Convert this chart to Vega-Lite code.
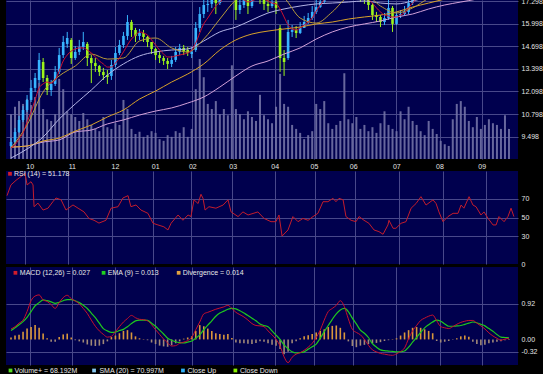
{
  "$schema": "https://vega.github.io/schema/vega-lite/v6.json",
  "background": "#000000",
  "padding": {"left": 5, "top": -3, "right": 0, "bottom": 0},
  "config": {
    "view": {"stroke": null, "fill": "#00004e"},
    "axis": {"domain": false, "ticks": false, "labelOverlap": false, "tickCount": 30, "labelFont": "Liberation Sans", "labelFontSize": 7, "labelColor": "#e4e4e4", "gridColor": "#48488a", "gridOpacity": 1, "gridWidth": 1},
    "text": {"font": "Liberation Sans", "fontSize": 7, "color": "#e8e8e8", "align": "left", "baseline": "middle"}
  },
  "datasets": {
    "cd": [
      {"t":0,"o":8.96,"h":9.42,"l":8.85,"c":9.19,"v":79,"a":8.85,"m":0.27,"s":0.23,"d":0.05},
      {"t":2,"o":9.19,"h":10.00,"l":9.08,"c":9.77,"v":92,"a":9.02,"m":0.33,"s":0.30,"d":0.10},
      {"t":4,"o":9.77,"h":10.69,"l":9.71,"c":10.46,"v":102,"a":9.36,"m":0.42,"s":0.38,"d":0.12},
      {"t":6,"o":10.46,"h":11.26,"l":10.34,"c":11.03,"v":97,"a":9.71,"m":0.50,"s":0.46,"d":0.20},
      {"t":8,"o":11.03,"h":11.89,"l":10.92,"c":11.61,"v":106,"a":10.34,"m":0.72,"s":0.57,"d":0.28},
      {"t":10,"o":11.61,"h":12.76,"l":11.49,"c":12.30,"v":95,"a":10.92,"m":1.00,"s":0.72,"d":0.32},
      {"t":12,"o":12.30,"h":13.16,"l":12.07,"c":12.87,"v":109,"a":11.61,"m":1.12,"s":0.87,"d":0.37},
      {"t":14,"o":12.76,"h":14.31,"l":12.58,"c":13.91,"v":134,"a":12.30,"m":1.15,"s":0.95,"d":0.30},
      {"t":16,"o":13.79,"h":14.02,"l":12.64,"c":12.87,"v":88,"a":12.53,"m":1.02,"s":1.02,"d":0.15},
      {"t":18,"o":12.87,"h":13.04,"l":11.89,"c":12.18,"v":70,"a":12.64,"m":0.98,"s":1.00,"d":0.03},
      {"t":20,"o":12.18,"h":12.76,"l":11.84,"c":12.53,"v":67,"a":12.58,"m":0.90,"s":0.97,"d":-0.06},
      {"t":22,"o":12.53,"h":13.56,"l":12.41,"c":13.22,"v":79,"a":12.76,"m":0.80,"s":0.93,"d":-0.06},
      {"t":24,"o":13.22,"h":14.60,"l":13.10,"c":14.19,"v":141,"a":13.27,"m":0.95,"s":0.96,"d":0.06},
      {"t":26,"o":14.19,"h":15.29,"l":14.02,"c":14.94,"v":123,"a":13.85,"m":1.08,"s":1.00,"d":0.13},
      {"t":28,"o":14.83,"h":15.52,"l":14.60,"c":15.17,"v":84,"a":14.19,"m":1.14,"s":1.03,"d":0.15},
      {"t":30,"o":15.06,"h":15.17,"l":13.68,"c":14.02,"v":79,"a":14.42,"m":1.05,"s":1.03,"d":0.05},
      {"t":32,"o":14.02,"h":14.71,"l":13.91,"c":14.37,"v":74,"a":14.54,"m":0.99,"s":1.00,"d":-0.02},
      {"t":34,"o":14.37,"h":15.06,"l":14.19,"c":14.65,"v":67,"a":14.60,"m":0.92,"s":0.95,"d":-0.05},
      {"t":36,"o":14.65,"h":15.52,"l":14.48,"c":14.94,"v":81,"a":14.60,"m":0.80,"s":0.88,"d":-0.08},
      {"t":38,"o":14.83,"h":14.94,"l":13.56,"c":14.02,"v":70,"a":14.48,"m":0.67,"s":0.80,"d":-0.13},
      {"t":40,"o":14.02,"h":14.19,"l":12.58,"c":13.73,"v":60,"a":14.31,"m":0.50,"s":0.68,"d":-0.16},
      {"t":42,"o":13.73,"h":14.02,"l":13.22,"c":13.56,"v":53,"a":14.08,"m":0.34,"s":0.56,"d":-0.17},
      {"t":44,"o":13.56,"h":13.62,"l":12.99,"c":13.22,"v":49,"a":13.85,"m":0.22,"s":0.42,"d":-0.16},
      {"t":46,"o":13.22,"h":13.45,"l":12.76,"c":13.04,"v":74,"a":13.68,"m":0.13,"s":0.28,"d":-0.12},
      {"t":48,"o":13.04,"h":13.33,"l":12.53,"c":12.93,"v":56,"a":13.50,"m":0.06,"s":0.22,"d":-0.05},
      {"t":50,"o":12.99,"h":13.91,"l":12.76,"c":13.62,"v":53,"a":13.50,"m":0.08,"s":0.18,"d":0.06},
      {"t":52,"o":13.62,"h":14.65,"l":13.50,"c":14.31,"v":63,"a":13.73,"m":0.20,"s":0.19,"d":0.10},
      {"t":54,"o":14.31,"h":15.06,"l":14.19,"c":14.77,"v":60,"a":14.02,"m":0.33,"s":0.23,"d":0.16},
      {"t":56,"o":14.77,"h":15.52,"l":14.60,"c":15.29,"v":104,"a":14.37,"m":0.45,"s":0.26,"d":0.22},
      {"t":58,"o":15.29,"h":16.49,"l":15.06,"c":16.09,"v":88,"a":14.77,"m":0.54,"s":0.33,"d":0.24},
      {"t":60,"o":16.09,"h":16.21,"l":15.23,"c":15.63,"v":53,"a":15.11,"m":0.62,"s":0.41,"d":0.18},
      {"t":62,"o":15.63,"h":15.75,"l":14.94,"c":15.29,"v":44,"a":15.34,"m":0.56,"s":0.48,"d":0.08},
      {"t":64,"o":15.29,"h":15.69,"l":15.06,"c":15.46,"v":48,"a":15.52,"m":0.52,"s":0.50,"d":0.03},
      {"t":66,"o":15.46,"h":15.63,"l":14.94,"c":15.23,"v":39,"a":15.46,"m":0.51,"s":0.50,"d":0.01},
      {"t":68,"o":15.23,"h":15.29,"l":14.65,"c":14.94,"v":42,"a":15.34,"m":0.48,"s":0.49,"d":-0.02},
      {"t":70,"o":14.94,"h":14.94,"l":14.25,"c":14.54,"v":49,"a":15.06,"m":0.38,"s":0.42,"d":-0.08},
      {"t":72,"o":14.54,"h":14.60,"l":13.91,"c":14.19,"v":46,"a":14.77,"m":0.25,"s":0.34,"d":-0.12},
      {"t":74,"o":14.19,"h":14.37,"l":13.73,"c":14.02,"v":35,"a":14.48,"m":0.13,"s":0.24,"d":-0.16},
      {"t":76,"o":14.02,"h":14.14,"l":13.62,"c":13.85,"v":32,"a":14.25,"m":0.01,"s":0.14,"d":-0.18},
      {"t":78,"o":13.85,"h":14.02,"l":13.39,"c":13.68,"v":42,"a":14.08,"m":-0.09,"s":0.03,"d":-0.19},
      {"t":80,"o":13.68,"h":14.14,"l":13.50,"c":13.91,"v":39,"a":14.08,"m":-0.17,"s":-0.02,"d":-0.15},
      {"t":82,"o":13.91,"h":14.65,"l":13.79,"c":14.37,"v":49,"a":14.14,"m":-0.16,"s":-0.06,"d":-0.10},
      {"t":84,"o":14.37,"h":14.83,"l":14.19,"c":14.60,"v":46,"a":14.19,"m":-0.10,"s":-0.08,"d":-0.05},
      {"t":86,"o":14.60,"h":14.77,"l":14.19,"c":14.42,"v":56,"a":14.25,"m":-0.07,"s":-0.09,"d":0.02},
      {"t":88,"o":14.48,"h":14.65,"l":14.14,"c":14.31,"v":39,"a":14.31,"m":-0.03,"s":-0.07,"d":0.05},
      {"t":90,"o":14.25,"h":14.65,"l":14.02,"c":14.37,"v":53,"a":14.48,"m":0.05,"s":-0.04,"d":0.08},
      {"t":92,"o":14.48,"h":16.09,"l":14.37,"c":15.75,"v":123,"a":14.88,"m":0.25,"s":0.03,"d":0.22},
      {"t":94,"o":15.75,"h":16.95,"l":15.52,"c":16.55,"v":176,"a":15.46,"m":0.45,"s":0.12,"d":0.37},
      {"t":96,"o":16.55,"h":17.53,"l":16.32,"c":17.07,"v":144,"a":15.98,"m":0.66,"s":0.25,"d":0.34},
      {"t":98,"o":17.07,"h":17.70,"l":16.67,"c":17.13,"v":97,"a":16.32,"m":0.70,"s":0.37,"d":0.28},
      {"t":100,"o":17.13,"h":18.05,"l":16.90,"c":17.70,"v":88,"a":16.67,"m":0.74,"s":0.48,"d":0.22},
      {"t":102,"o":17.70,"h":17.93,"l":16.55,"c":17.18,"v":102,"a":17.01,"m":0.78,"s":0.60,"d":0.16},
      {"t":104,"o":17.18,"h":18.16,"l":17.07,"c":17.82,"v":79,"a":17.24,"m":0.81,"s":0.68,"d":0.14},
      {"t":106,"o":17.82,"h":18.39,"l":17.59,"c":18.05,"v":88,"a":17.47,"m":0.84,"s":0.73,"d":0.12},
      {"t":108,"o":18.05,"h":18.62,"l":17.82,"c":18.22,"v":77,"a":17.70,"m":0.88,"s":0.78,"d":0.14},
      {"t":110,"o":18.22,"h":18.39,"l":17.59,"c":17.93,"v":165,"a":17.82,"m":0.80,"s":0.80,"d":0.04},
      {"t":112,"o":17.82,"h":17.93,"l":16.21,"c":16.78,"v":88,"a":17.64,"m":0.70,"s":0.79,"d":-0.08},
      {"t":114,"o":16.78,"h":17.47,"l":16.55,"c":17.07,"v":79,"a":17.47,"m":0.64,"s":0.74,"d":-0.10},
      {"t":116,"o":17.07,"h":17.70,"l":16.90,"c":17.36,"v":70,"a":17.36,"m":0.58,"s":0.68,"d":-0.10},
      {"t":118,"o":17.36,"h":17.59,"l":16.55,"c":17.01,"v":84,"a":17.24,"m":0.50,"s":0.62,"d":-0.11},
      {"t":120,"o":17.01,"h":17.93,"l":16.90,"c":17.70,"v":74,"a":17.30,"m":0.41,"s":0.55,"d":-0.12},
      {"t":122,"o":17.70,"h":18.16,"l":17.47,"c":17.87,"v":67,"a":17.41,"m":0.36,"s":0.48,"d":-0.09},
      {"t":124,"o":17.87,"h":18.05,"l":17.13,"c":17.53,"v":113,"a":17.47,"m":0.35,"s":0.40,"d":-0.05},
      {"t":126,"o":17.53,"h":17.70,"l":16.78,"c":17.13,"v":77,"a":17.41,"m":0.33,"s":0.36,"d":-0.06},
      {"t":128,"o":17.13,"h":17.47,"l":16.67,"c":17.01,"v":70,"a":17.30,"m":0.22,"s":0.33,"d":-0.10},
      {"t":130,"o":17.01,"h":17.59,"l":16.90,"c":17.24,"v":63,"a":17.18,"m":0.12,"s":0.22,"d":-0.14},
      {"t":132,"o":17.24,"h":17.47,"l":16.55,"c":16.90,"v":92,"a":17.13,"m":0.00,"s":0.11,"d":-0.16},
      {"t":134,"o":15.75,"h":15.92,"l":13.22,"c":14.02,"v":150,"a":16.84,"m":-0.17,"s":0.00,"d":-0.25},
      {"t":136,"o":14.02,"h":14.48,"l":12.99,"c":13.79,"v":97,"a":16.38,"m":-0.45,"s":-0.14,"d":-0.38},
      {"t":138,"o":14.02,"h":16.21,"l":13.91,"c":15.52,"v":92,"a":15.92,"m":-0.60,"s":-0.24,"d":-0.32},
      {"t":140,"o":15.52,"h":15.92,"l":15.23,"c":15.63,"v":60,"a":15.69,"m":-0.46,"s":-0.32,"d":-0.10},
      {"t":142,"o":15.63,"h":15.86,"l":15.17,"c":15.46,"v":53,"a":15.63,"m":-0.38,"s":-0.35,"d":-0.05},
      {"t":144,"o":15.46,"h":16.09,"l":15.40,"c":15.75,"v":46,"a":15.75,"m":-0.34,"s":-0.34,"d":0.03},
      {"t":146,"o":15.75,"h":16.44,"l":15.75,"c":16.09,"v":35,"a":15.92,"m":-0.28,"s":-0.32,"d":0.08},
      {"t":148,"o":16.09,"h":16.61,"l":15.98,"c":16.32,"v":42,"a":16.09,"m":-0.20,"s":-0.25,"d":0.11},
      {"t":150,"o":16.32,"h":17.01,"l":16.21,"c":16.67,"v":49,"a":16.32,"m":-0.10,"s":-0.19,"d":0.14},
      {"t":152,"o":16.67,"h":17.36,"l":16.55,"c":16.95,"v":97,"a":16.72,"m":0.05,"s":-0.12,"d":0.18},
      {"t":154,"o":16.95,"h":17.59,"l":16.90,"c":17.24,"v":88,"a":17.07,"m":0.24,"s":0.03,"d":0.22},
      {"t":156,"o":17.24,"h":18.05,"l":17.13,"c":17.70,"v":102,"a":17.36,"m":0.50,"s":0.20,"d":0.26},
      {"t":158,"o":17.70,"h":18.39,"l":17.59,"c":18.05,"v":63,"a":17.59,"m":0.72,"s":0.36,"d":0.32},
      {"t":160,"o":18.05,"h":18.62,"l":17.93,"c":18.28,"v":53,"a":17.82,"m":0.80,"s":0.52,"d":0.35},
      {"t":162,"o":18.28,"h":18.85,"l":18.16,"c":18.51,"v":60,"a":18.05,"m":0.88,"s":0.66,"d":0.36},
      {"t":164,"o":18.51,"h":18.74,"l":18.05,"c":18.39,"v":67,"a":18.22,"m":1.00,"s":0.76,"d":0.30},
      {"t":166,"o":18.39,"h":18.97,"l":18.16,"c":18.62,"v":151,"a":18.33,"m":0.85,"s":0.80,"d":0.18},
      {"t":168,"o":18.62,"h":18.74,"l":17.93,"c":18.28,"v":70,"a":18.33,"m":0.53,"s":0.72,"d":-0.05},
      {"t":170,"o":18.28,"h":18.39,"l":17.70,"c":18.05,"v":63,"a":18.22,"m":0.26,"s":0.55,"d":-0.17},
      {"t":172,"o":18.05,"h":18.22,"l":17.47,"c":17.82,"v":74,"a":18.05,"m":0.18,"s":0.40,"d":-0.20},
      {"t":174,"o":17.82,"h":17.93,"l":17.24,"c":17.59,"v":53,"a":17.82,"m":0.12,"s":0.24,"d":-0.16},
      {"t":176,"o":17.59,"h":17.82,"l":17.13,"c":17.47,"v":60,"a":17.59,"m":0.00,"s":0.16,"d":-0.14},
      {"t":178,"o":17.47,"h":17.59,"l":16.78,"c":17.07,"v":49,"a":17.41,"m":-0.15,"s":0.05,"d":-0.12},
      {"t":180,"o":17.07,"h":17.18,"l":16.21,"c":16.49,"v":56,"a":17.18,"m":-0.27,"s":-0.11,"d":-0.10},
      {"t":182,"o":16.49,"h":16.67,"l":16.09,"c":16.38,"v":46,"a":16.90,"m":-0.32,"s":-0.20,"d":-0.09},
      {"t":184,"o":16.38,"h":16.49,"l":15.80,"c":16.09,"v":63,"a":16.67,"m":-0.36,"s":-0.27,"d":-0.07},
      {"t":186,"o":16.09,"h":16.61,"l":15.92,"c":16.32,"v":84,"a":16.49,"m":-0.38,"s":-0.29,"d":-0.04},
      {"t":188,"o":16.32,"h":17.36,"l":16.21,"c":16.90,"v":60,"a":16.44,"m":-0.40,"s":-0.30,"d":-0.02},
      {"t":190,"o":16.90,"h":17.01,"l":15.52,"c":15.98,"v":53,"a":16.38,"m":-0.41,"s":-0.31,"d":0.01},
      {"t":192,"o":15.98,"h":16.67,"l":15.92,"c":16.49,"v":49,"a":16.38,"m":-0.37,"s":-0.32,"d":0.03},
      {"t":194,"o":16.49,"h":16.78,"l":16.32,"c":16.55,"v":84,"a":16.49,"m":-0.31,"s":-0.32,"d":0.10},
      {"t":196,"o":16.55,"h":17.01,"l":16.44,"c":16.67,"v":70,"a":16.61,"m":-0.22,"s":-0.30,"d":0.18},
      {"t":198,"o":16.67,"h":17.59,"l":16.55,"c":17.18,"v":92,"a":16.90,"m":0.02,"s":-0.20,"d":0.24},
      {"t":200,"o":17.18,"h":18.05,"l":17.07,"c":17.70,"v":67,"a":17.18,"m":0.22,"s":-0.07,"d":0.30},
      {"t":202,"o":17.70,"h":18.39,"l":17.59,"c":18.05,"v":60,"a":17.47,"m":0.36,"s":0.05,"d":0.32},
      {"t":204,"o":18.05,"h":18.74,"l":17.93,"c":18.39,"v":49,"a":17.82,"m":0.49,"s":0.18,"d":0.30},
      {"t":206,"o":18.39,"h":18.97,"l":18.28,"c":18.62,"v":42,"a":18.10,"m":0.55,"s":0.30,"d":0.26},
      {"t":208,"o":18.62,"h":19.20,"l":18.51,"c":18.85,"v":67,"a":18.39,"m":0.60,"s":0.38,"d":0.22},
      {"t":210,"o":18.85,"h":19.43,"l":18.74,"c":19.08,"v":53,"a":18.62,"m":0.63,"s":0.45,"d":0.16},
      {"t":212,"o":19.08,"h":19.31,"l":18.62,"c":18.97,"v":44,"a":18.79,"m":0.48,"s":0.50,"d":-0.04},
      {"t":214,"o":18.97,"h":19.08,"l":18.39,"c":18.74,"v":32,"a":18.85,"m":0.33,"s":0.47,"d":-0.08},
      {"t":216,"o":18.74,"h":19.43,"l":18.62,"c":19.08,"v":26,"a":18.91,"m":0.30,"s":0.40,"d":-0.06},
      {"t":218,"o":19.08,"h":19.66,"l":18.97,"c":19.31,"v":23,"a":19.02,"m":0.28,"s":0.34,"d":-0.04},
      {"t":220,"o":19.31,"h":19.89,"l":19.20,"c":19.54,"v":70,"a":19.20,"m":0.33,"s":0.34,"d":-0.01},
      {"t":222,"o":19.54,"h":20.00,"l":19.31,"c":19.66,"v":97,"a":19.37,"m":0.39,"s":0.35,"d":0.03},
      {"t":224,"o":19.66,"h":19.77,"l":19.08,"c":19.43,"v":102,"a":19.43,"m":0.44,"s":0.36,"d":0.08},
      {"t":226,"o":19.43,"h":19.54,"l":18.85,"c":19.20,"v":92,"a":19.37,"m":0.47,"s":0.39,"d":0.10},
      {"t":228,"o":19.20,"h":19.31,"l":18.62,"c":18.97,"v":67,"a":19.25,"m":0.49,"s":0.42,"d":0.07},
      {"t":230,"o":18.97,"h":19.20,"l":18.51,"c":18.85,"v":56,"a":19.08,"m":0.49,"s":0.45,"d":-0.06},
      {"t":232,"o":18.85,"h":18.97,"l":18.28,"c":18.62,"v":74,"a":18.91,"m":0.42,"s":0.43,"d":-0.12},
      {"t":234,"o":18.62,"h":19.08,"l":18.39,"c":18.74,"v":53,"a":18.79,"m":0.35,"s":0.39,"d":-0.15},
      {"t":236,"o":18.74,"h":18.85,"l":18.16,"c":18.51,"v":60,"a":18.68,"m":0.27,"s":0.35,"d":-0.14},
      {"t":238,"o":18.51,"h":18.97,"l":18.28,"c":18.62,"v":70,"a":18.62,"m":0.17,"s":0.28,"d":-0.10},
      {"t":240,"o":18.62,"h":19.20,"l":18.51,"c":18.85,"v":63,"a":18.68,"m":0.09,"s":0.21,"d":-0.08},
      {"t":242,"o":18.85,"h":19.08,"l":18.39,"c":18.74,"v":60,"a":18.74,"m":0.03,"s":0.13,"d":-0.06},
      {"t":244,"o":18.74,"h":19.31,"l":18.62,"c":18.97,"v":53,"a":18.85,"m":-0.02,"s":0.06,"d":-0.05},
      {"t":246,"o":18.97,"h":19.54,"l":18.85,"c":19.20,"v":77,"a":18.97,"m":0.01,"s":0.05,"d":-0.02},
      {"t":248,"o":19.20,"h":19.43,"l":18.74,"c":19.08,"v":53,"a":19.02,"m":0.03,"s":0.04,"d":0.01}
    ],
    "ma": [
      {"t":0,"b":8.85,"e":8.27,"g":8.90,"p":8.90},
      {"t":8,"b":10.17,"e":8.79,"g":8.96,"p":8.96},
      {"t":16,"b":12.07,"e":9.48,"g":9.25,"p":9.19},
      {"t":24,"b":12.99,"e":10.51,"g":9.42,"p":9.31},
      {"t":32,"b":13.56,"e":11.38,"g":9.82,"p":9.77},
      {"t":40,"b":14.25,"e":12.18,"g":10.17,"p":9.88},
      {"t":48,"b":13.96,"e":13.04,"g":10.63,"p":10.23},
      {"t":56,"b":14.02,"e":13.68,"g":11.03,"p":10.46},
      {"t":64,"b":15.00,"e":14.14,"g":11.66,"p":10.74},
      {"t":72,"b":15.17,"e":14.37,"g":12.12,"p":10.97},
      {"t":80,"b":14.60,"e":14.48,"g":12.64,"p":11.15},
      {"t":88,"b":14.37,"e":14.54,"g":13.10,"p":11.43},
      {"t":96,"b":15.11,"e":15.00,"g":13.68,"p":11.78},
      {"t":104,"b":16.26,"e":15.52,"g":14.48,"p":12.35},
      {"t":112,"b":17.36,"e":15.80,"g":15.06,"p":12.99},
      {"t":120,"b":17.82,"e":16.21,"g":15.40,"p":13.56},
      {"t":128,"b":17.82,"e":16.61,"g":15.57,"p":13.85},
      {"t":136,"b":17.47,"e":16.84,"g":15.69,"p":14.25},
      {"t":144,"b":16.32,"e":17.01,"g":15.80,"p":14.60},
      {"t":152,"b":16.03,"e":17.13,"g":15.98,"p":15.11},
      {"t":160,"b":16.67,"e":17.18,"g":16.09,"p":15.52},
      {"t":168,"b":17.53,"e":17.24,"g":16.26,"p":15.80},
      {"t":176,"b":17.70,"e":17.30,"g":16.38,"p":15.98},
      {"t":184,"b":17.01,"e":17.18,"g":16.49,"p":16.15},
      {"t":192,"b":16.61,"e":17.13,"g":16.67,"p":16.38},
      {"t":200,"b":16.90,"e":17.30,"g":16.95,"p":16.55},
      {"t":208,"b":17.47,"e":17.53,"g":17.18,"p":16.84},
      {"t":216,"b":18.05,"e":17.70,"g":17.41,"p":17.07},
      {"t":224,"b":18.51,"e":17.87,"g":17.64,"p":17.24},
      {"t":232,"b":18.79,"e":18.05,"g":17.76,"p":17.41},
      {"t":240,"b":18.79,"e":18.22,"g":17.87,"p":17.64},
      {"t":248,"b":18.79,"e":18.33,"g":17.99,"p":17.82}
    ],
    "rsi": [
      {"t":0.5,"r":73.5},{"t":2.4,"r":85},{"t":4.9,"r":90},{"t":7.3,"r":94},{"t":9.3,"r":97.5},{"t":10.3,"r":85},{"t":12.2,"r":88.5},{"t":13.2,"r":85},{"t":13.7,"r":61.6},{"t":15.6,"r":65.5},{"t":18.1,"r":58},{"t":20.5,"r":60},{"t":22.9,"r":67},{"t":24.4,"r":71},{"t":26.9,"r":69},{"t":29.3,"r":58},{"t":32.7,"r":63.5},{"t":35.2,"r":60},{"t":38.1,"r":56},{"t":40.5,"r":49},{"t":43,"r":47},{"t":45.4,"r":44},{"t":48.8,"r":47},{"t":51.3,"r":60},{"t":54.7,"r":61.6},{"t":57.1,"r":71},{"t":59.6,"r":73.5},{"t":61,"r":61.6},{"t":63.5,"r":63.5},{"t":65.9,"r":58},{"t":69.3,"r":54.5},{"t":71.8,"r":43.8},{"t":74.2,"r":42},{"t":77.1,"r":40},{"t":79.1,"r":36.6},{"t":80.6,"r":43.8},{"t":84,"r":52.7},{"t":86.4,"r":47},{"t":88.9,"r":52.7},{"t":90.3,"r":51},{"t":91.8,"r":69},{"t":93.8,"r":65},{"t":95.2,"r":75},{"t":96.2,"r":70.6},{"t":97.2,"r":58},{"t":99.1,"r":61.6},{"t":102.5,"r":60},{"t":106,"r":63.4},{"t":108.4,"r":69},{"t":109.9,"r":56},{"t":113.3,"r":51},{"t":115.7,"r":56},{"t":118.2,"r":52.7},{"t":123,"r":56},{"t":126,"r":49},{"t":129.4,"r":45.5},{"t":131.8,"r":45.5},{"t":133.3,"r":52.7},{"t":134.8,"r":30},{"t":137.7,"r":36.6},{"t":140.1,"r":51},{"t":142.6,"r":45.5},{"t":145,"r":49},{"t":147.5,"r":47},{"t":149.9,"r":51},{"t":152.3,"r":54.5},{"t":154.8,"r":67},{"t":157.2,"r":67},{"t":159.7,"r":70.6},{"t":161.1,"r":67},{"t":162.6,"r":70.6},{"t":164.6,"r":69},{"t":166,"r":51},{"t":168.5,"r":47},{"t":170.9,"r":45.5},{"t":172.4,"r":51},{"t":174.8,"r":47},{"t":177.2,"r":43.8},{"t":179.7,"r":36.6},{"t":182.1,"r":34.8},{"t":184.1,"r":32},{"t":186.5,"r":42},{"t":187,"r":47},{"t":189,"r":38.4},{"t":190.4,"r":38.4},{"t":192.9,"r":43.8},{"t":195.3,"r":45.5},{"t":197.8,"r":60},{"t":200.2,"r":65},{"t":202.6,"r":72.4},{"t":205.1,"r":63.4},{"t":208.5,"r":69},{"t":210,"r":65},{"t":211.4,"r":56},{"t":213.4,"r":45.5},{"t":215.8,"r":51},{"t":218.3,"r":54.5},{"t":220.7,"r":54.5},{"t":222.2,"r":63.4},{"t":223.6,"r":60},{"t":226.1,"r":72.4},{"t":228,"r":63.4},{"t":229.5,"r":61.6},{"t":231.9,"r":52.7},{"t":233.4,"r":56},{"t":235.4,"r":49},{"t":237.8,"r":42},{"t":239.3,"r":42},{"t":240.7,"r":51},{"t":243.2,"r":45.5},{"t":245.1,"r":51},{"t":246.6,"r":60},{"t":248,"r":51}
    ],
    "rl": [{"sx":1.95,"tx":3.9,"y":97,"s":"RSI","label":"RSI (14) = 51.178"}],
    "ml": [
      {"sx":2.2,"tx":4.4,"y":1.72,"s":"MACD","label":"MACD (12,26) = 0.027"},
      {"sx":46.1,"tx":48.2,"y":1.72,"s":"EMA","label":"EMA (9) = 0.013"},
      {"sx":83.5,"tx":85.5,"y":1.72,"s":"Div","label":"Divergence = 0.014"}
    ],
    "ll": [
      {"sx":2.2,"tx":4.2,"s":"Vol","label":"Volume+ = 68.192M"},
      {"sx":43.0,"tx":45.6,"s":"SMA","label":"SMA (20) = 70.997M"},
      {"sx":86.4,"tx":88.6,"s":"Up","label":"Close Up"},
      {"sx":112,"tx":114.2,"s":"Down","label":"Close Down"}
    ]
  },
  "bounds": "flush",
  "spacing": 12,
  "vconcat": [
    {
      "width": 512,
      "height": 159,
      "resolve": {"scale": {"y": "independent"}},
      "layer": [
        {
          "data": {"name": "cd"},
          "mark": {"type": "bar", "size": 2, "color": "#7272a6", "opacity": 0.9},
          "encoding": {
            "x": {"field": "t", "type": "quantitative", "scale": {"domain": [0, 250], "nice": false, "zero": false},
                  "axis": {"title": null, "orient": "bottom", "grid": true, "labelPadding": 3, "labelOverlap": false, "tickCount": 30,
                           "values": [9.3,30.3,51.8,71.8,90.3,110.4,131.3,150.9,170.4,191.9,213.4,234.4],
                           "labelExpr": "['10','11','12','01','02','03','04','05','06','07','08','09'][indexof([9.3,30.3,51.8,71.8,90.3,110.4,131.3,150.9,170.4,191.9,213.4,234.4], datum.value)]"}},
            "y": {"field": "v", "type": "quantitative", "scale": {"domain": [0, 280], "nice": false}, "axis": null}
          }
        },
        {
          "layer": [
            {
              "data": {"name": "cd"},
              "mark": {"type": "rule", "strokeWidth": 1, "clip": true},
              "encoding": {
                "x": {"field": "t", "type": "quantitative", "scale": {"domain": [0, 250], "nice": false, "zero": false}},
                "y": {"field": "l", "type": "quantitative", "scale": {"domain": [8.2135, 17.356], "nice": false, "zero": false},
                      "axis": {"title": null, "orient": "right", "grid": true, "labelPadding": 3, "labelOverlap": false, "tickCount": 30,
                               "values": [9.498, 10.798, 12.098, 13.398, 14.698, 15.998, 17.298],
                               "labelExpr": "format(datum.value, '.3f')"}},
                "y2": {"field": "h"},
                "color": {"condition": {"test": "datum.c >= datum.o", "value": "#38b4ff"}, "value": "#9cf51a"}
              }
            },
            {
              "data": {"name": "cd"},
              "mark": {"type": "bar", "size": 2.6, "clip": true},
              "encoding": {
                "x": {"field": "t", "type": "quantitative", "scale": {"domain": [0, 250], "nice": false, "zero": false}},
                "y": {"field": "o", "type": "quantitative", "scale": {"domain": [8.2135, 17.356], "nice": false, "zero": false}},
                "y2": {"field": "c"},
                "color": {"condition": {"test": "datum.c >= datum.o", "value": "#38b4ff"}, "value": "#9cf51a"}
              }
            },
            {
              "data": {"name": "ma"},
              "mark": {"type": "line", "color": "#d2a0d8", "strokeWidth": 1, "interpolate": "monotone", "clip": true},
              "encoding": {
                "x": {"field": "t", "type": "quantitative", "scale": {"domain": [0, 250], "nice": false, "zero": false}},
                "y": {"field": "p", "type": "quantitative", "scale": {"domain": [8.2135, 17.356], "nice": false, "zero": false}}
              }
            },
            {
              "data": {"name": "ma"},
              "mark": {"type": "line", "color": "#d9a22a", "strokeWidth": 1, "interpolate": "monotone", "clip": true},
              "encoding": {
                "x": {"field": "t", "type": "quantitative", "scale": {"domain": [0, 250], "nice": false, "zero": false}},
                "y": {"field": "g", "type": "quantitative", "scale": {"domain": [8.2135, 17.356], "nice": false, "zero": false}}
              }
            },
            {
              "data": {"name": "ma"},
              "mark": {"type": "line", "color": "#b4b4e6", "strokeWidth": 1, "interpolate": "monotone", "clip": true},
              "encoding": {
                "x": {"field": "t", "type": "quantitative", "scale": {"domain": [0, 250], "nice": false, "zero": false}},
                "y": {"field": "e", "type": "quantitative", "scale": {"domain": [8.2135, 17.356], "nice": false, "zero": false}}
              }
            },
            {
              "data": {"name": "ma"},
              "mark": {"type": "line", "color": "#b89a3a", "strokeWidth": 1, "interpolate": "monotone", "clip": true},
              "encoding": {
                "x": {"field": "t", "type": "quantitative", "scale": {"domain": [0, 250], "nice": false, "zero": false}},
                "y": {"field": "b", "type": "quantitative", "scale": {"domain": [8.2135, 17.356], "nice": false, "zero": false}}
              }
            },
            {
              "data": {"name": "cd"},
              "mark": {"type": "line", "color": "#cc1030", "strokeWidth": 1, "interpolate": "monotone", "clip": true},
              "encoding": {
                "x": {"field": "t", "type": "quantitative", "scale": {"domain": [0, 250], "nice": false, "zero": false}},
                "y": {"field": "a", "type": "quantitative", "scale": {"domain": [8.2135, 17.356], "nice": false, "zero": false}}
              }
            }
          ]
        }
      ]
    },
    {
      "bounds": "flush",
      "spacing": 3,
      "vconcat": [
        {
          "width": 512,
          "height": 93,
          "layer": [
            {
              "data": {"name": "rsi"},
              "mark": {"type": "line", "color": "#c41c2c", "strokeWidth": 1},
              "encoding": {
                "x": {"field": "t", "type": "quantitative", "scale": {"domain": [0, 250], "nice": false, "zero": false},
                      "axis": {"title": null, "grid": true, "labels": false, "tickCount": 30, "values": [9.3,30.3,51.8,71.8,90.3,110.4,131.3,150.9,170.4,191.9,213.4,234.4]}},
                "y": {"field": "r", "type": "quantitative", "scale": {"domain": [0, 100], "nice": false},
                      "axis": {"title": null, "orient": "right", "grid": true, "labelPadding": 3, "labelOverlap": false, "tickCount": 30, "values": [0, 30, 50, 70],
                               "labelExpr": "format(datum.value, 'd')",
                               "gridColor": {"condition": {"test": "datum.value === 0", "value": "transparent"}, "value": "#48488a"}}}
              }
            },
            {
              "data": {"name": "rl"},
              "mark": {"type": "square", "size": 14, "opacity": 1},
              "encoding": {
                "x": {"field": "sx", "type": "quantitative"},
                "y": {"field": "y", "type": "quantitative"},
                "color": {"field": "s", "type": "nominal", "legend": null,
                          "scale": {"domain": ["RSI","MACD","EMA","Div","Vol","SMA","Up","Down"], "range": ["#d01c2c","#d01c2c","#1ed21e","#e0a040","#55dd22","#88c8f0","#30b0f8","#88f000"]}}
              }
            },
            {
              "data": {"name": "rl"},
              "mark": {"type": "text"},
              "encoding": {
                "x": {"field": "tx", "type": "quantitative"},
                "y": {"field": "y", "type": "quantitative"},
                "text": {"field": "label"}
              }
            }
          ]
        },
        {
          "width": 512,
          "height": 98,
          "layer": [
            {
              "data": {"name": "cd"},
              "mark": {"type": "bar", "size": 1.6},
              "encoding": {
                "x": {"field": "t", "type": "quantitative", "scale": {"domain": [0, 250], "nice": false, "zero": false},
                      "axis": {"title": null, "grid": true, "labels": false, "tickCount": 30, "values": [9.3,30.3,51.8,71.8,90.3,110.4,131.3,150.9,170.4,191.9,213.4,234.4]}},
                "y": {"field": "d", "type": "quantitative", "scale": {"domain": [-0.66, 1.87], "nice": false, "zero": false},
                      "axis": {"title": null, "orient": "right", "grid": true, "labelPadding": 3, "labelOverlap": false, "tickCount": 30, "values": [0.92, 0, -0.32],
                               "labelExpr": "datum.value < 0 ? '-' + format(-datum.value, '.2f') : format(datum.value, '.2f')",
                               "gridColor": {"condition": {"test": "datum.value === 0", "value": "transparent"}, "value": "#48488a"}}},
                "y2": {"datum": 0},
                "color": {"condition": {"test": "datum.d >= 0", "value": "#d8963c"}, "value": "#a08878"}
              }
            },
            {
              "data": {"name": "cd"},
              "mark": {"type": "line", "color": "#1ec81e", "strokeWidth": 1.2, "interpolate": "monotone"},
              "encoding": {
                "x": {"field": "t", "type": "quantitative"},
                "y": {"field": "s", "type": "quantitative"}
              }
            },
            {
              "data": {"name": "cd"},
              "mark": {"type": "line", "color": "#c8102c", "strokeWidth": 1, "interpolate": "monotone"},
              "encoding": {
                "x": {"field": "t", "type": "quantitative"},
                "y": {"field": "m", "type": "quantitative"}
              }
            },
            {
              "data": {"name": "ml"},
              "mark": {"type": "square", "size": 14, "opacity": 1},
              "encoding": {
                "x": {"field": "sx", "type": "quantitative"},
                "y": {"field": "y", "type": "quantitative"},
                "color": {"field": "s", "type": "nominal", "legend": null,
                          "scale": {"domain": ["RSI","MACD","EMA","Div","Vol","SMA","Up","Down"], "range": ["#d01c2c","#d01c2c","#1ed21e","#e0a040","#55dd22","#88c8f0","#30b0f8","#88f000"]}}
              }
            },
            {
              "data": {"name": "ml"},
              "mark": {"type": "text"},
              "encoding": {
                "x": {"field": "tx", "type": "quantitative"},
                "y": {"field": "y", "type": "quantitative"},
                "text": {"field": "label"}
              }
            }
          ]
        },
        {
          "width": 512,
          "height": 5,
          "view": {"fill": null, "stroke": null},
          "layer": [
            {
              "data": {"name": "ll"},
              "mark": {"type": "square", "size": 14, "opacity": 1},
              "encoding": {
                "x": {"field": "sx", "type": "quantitative", "scale": {"domain": [0, 250], "nice": false, "zero": false}, "axis": null},
                "y": {"datum": 0.5, "type": "quantitative", "scale": {"domain": [0, 1]}, "axis": null},
                "color": {"field": "s", "type": "nominal", "legend": null,
                          "scale": {"domain": ["RSI","MACD","EMA","Div","Vol","SMA","Up","Down"], "range": ["#d01c2c","#d01c2c","#1ed21e","#e0a040","#55dd22","#88c8f0","#30b0f8","#88f000"]}}
              }
            },
            {
              "data": {"name": "ll"},
              "mark": {"type": "text"},
              "encoding": {
                "x": {"field": "tx", "type": "quantitative"},
                "y": {"datum": 0.5, "type": "quantitative"},
                "text": {"field": "label"}
              }
            }
          ]
        }
      ]
    }
  ]
}
